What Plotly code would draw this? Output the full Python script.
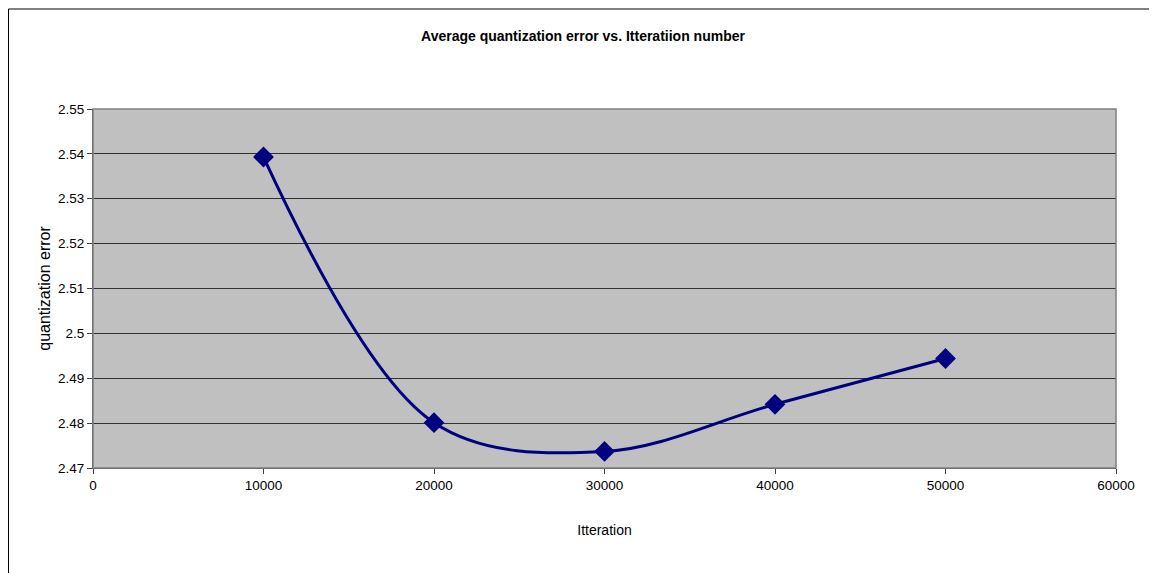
import plotly.graph_objects as go

iterations = [10000, 20000, 30000, 40000, 50000]
quant_error = [2.5393, 2.4801, 2.4737, 2.4842, 2.4944]
x_ticks = [0, 10000, 20000, 30000, 40000, 50000, 60000]
y_ticks = [2.47, 2.48, 2.49, 2.50, 2.51, 2.52, 2.53, 2.54, 2.55]
y_tick_labels = ["2.47", "2.48", "2.49", "2.5", "2.51", "2.52", "2.53", "2.54", "2.55"]

FONT = "Liberation Sans, Arial, sans-serif"

# page body has an 8px margin, so the figure is sized to fit the window
W, H = 1149, 565
L, R, T, B = 85, 41, 101, 105
PW, PH = W - L - R, H - T - B

fig = go.Figure()
fig.add_trace(go.Scatter(
    x=iterations, y=quant_error, mode="lines+markers",
    line=dict(color="#000080", width=3, shape="spline", smoothing=1.0),
    marker=dict(symbol="diamond", size=16, color="#000080"),
    showlegend=False, cliponaxis=False,
))

fig.update_layout(
    width=W, height=H,
    margin=dict(l=L, r=R, t=T, b=B),
    paper_bgcolor="white", plot_bgcolor="#C0C0C0",
    font=dict(family=FONT, size=14, color="black"),
    title=dict(text="<b>Average quantization error vs. Itteratiion number</b>",
               x=575 / W, xref="container", xanchor="center",
               y=1 - 28 / H, yref="container", yanchor="middle",
               font=dict(family=FONT, size=14, color="black")),
    xaxis=dict(range=[0, 60000], tickvals=x_ticks, ticktext=[str(v) for v in x_ticks],
               showgrid=False, zeroline=False, showline=True, linecolor="#404040", linewidth=1,
               ticks="outside", ticklen=5, tickcolor="#404040",
               tickfont=dict(size=13.5), title=dict(text="Itteration", standoff=32, font=dict(size=14))),
    yaxis=dict(range=[2.47, 2.55], tickvals=y_ticks, ticktext=y_tick_labels,
               showgrid=True, gridcolor="#303030", gridwidth=1, zeroline=False,
               showline=True, linecolor="#404040", linewidth=1,
               ticks="outside", ticklen=5, tickcolor="#404040",
               tickfont=dict(size=13.5), title=dict(text="quantization error", standoff=3, font=dict(size=16))),
)

# plot area border
fig.add_shape(type="rect", xref="paper", yref="paper", x0=0, x1=1, y0=0, y1=1,
              line=dict(color="#808080", width=1.5), layer="above")
# outer chart border
fig.add_shape(type="rect", xref="paper", yref="paper",
              x0=(0.5 - L) / PW, x1=(1147.5 - L) / PW,
              y0=-0.4, y1=(PH + T - 1) / PH,
              line=dict(color="black", width=1), layer="above")

fig.write_html("out.html")
